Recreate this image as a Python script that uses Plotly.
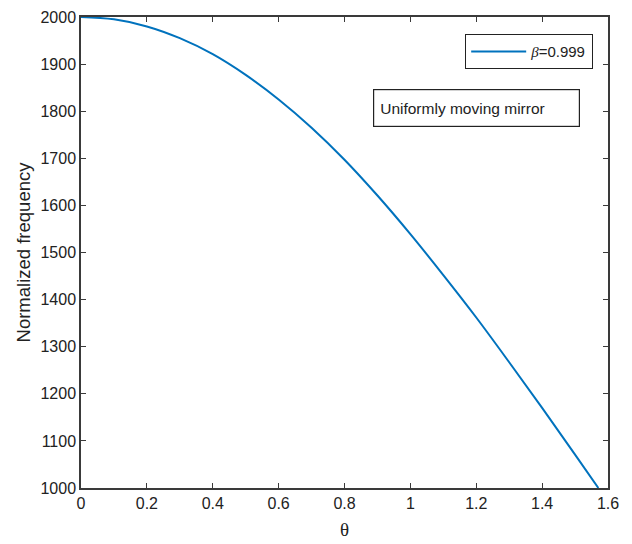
import plotly.graph_objects as go

# Normalized reflected frequency vs. incidence angle (beta = 0.999)
theta = [0.0, 0.1, 0.2, 0.3, 0.4, 0.5, 0.6, 0.7, 0.8, 0.9, 1.0,
         1.1, 1.2, 1.3, 1.4, 1.5, 1.5708]
norm_freq = [2000, 1995, 1980, 1955, 1921, 1877, 1825, 1765, 1697, 1621, 1539,
             1452, 1362, 1267, 1170, 1071, 1000]

x_ticks = [0, 0.2, 0.4, 0.6, 0.8, 1.0, 1.2, 1.4, 1.6]
x_tick_text = ["0", "0.2", "0.4", "0.6", "0.8", "1", "1.2", "1.4", "1.6"]
y_ticks = list(range(1000, 2001, 100))

fig = go.Figure()
fig.add_trace(go.Scatter(
    x=theta, y=norm_freq, mode="lines",
    line=dict(color="#0072BD", width=2, shape="spline", smoothing=1.0),
    name="<i style='font-family:Liberation Serif, Times New Roman'>β</i>=0.999",
))

axis_common = dict(
    showline=True, linecolor="#3a3a3a", linewidth=1.5, mirror="ticks",
    ticks="inside", ticklen=5, tickwidth=1.2, tickcolor="#3a3a3a",
    showgrid=False, zeroline=False, automargin=False,
    tickfont=dict(family="Liberation Sans, Arial", size=16, color="#222"),
)

fig.update_xaxes(range=[0, 1.6], tickvals=x_ticks, ticktext=x_tick_text,
                 title=dict(text="θ", font=dict(family="Liberation Serif, Times New Roman",
                                                 size=19, color="#222"), standoff=12),
                 **axis_common)
fig.update_yaxes(range=[1000, 2000], tickvals=y_ticks,
                 title=dict(text="Normalized frequency",
                            font=dict(family="Liberation Sans, Arial", size=18.5, color="#222"),
                            standoff=5),
                 **axis_common)

fig.add_annotation(
    xref="paper", yref="paper", x=0.7505, y=0.807,
    xanchor="center", yanchor="middle",
    text="Uniformly moving mirror", showarrow=False,
    font=dict(family="Liberation Sans, Arial", size=15.5, color="#222"),
    align="left", width=193, height=24, borderpad=6,
    bordercolor="#222", borderwidth=1.2, bgcolor="white",
)

fig.update_layout(
    width=632, height=544,
    margin=dict(l=81, r=24, t=17, b=56),
    paper_bgcolor="white", plot_bgcolor="white",
    showlegend=True,
    legend=dict(x=0.9715, y=0.964, xanchor="right", yanchor="top",
                itemwidth=55,
                bordercolor="#222", borderwidth=1.2, bgcolor="white",
                font=dict(family="Liberation Sans, Arial", size=15, color="#222")),
)

fig.write_html("out.html")
